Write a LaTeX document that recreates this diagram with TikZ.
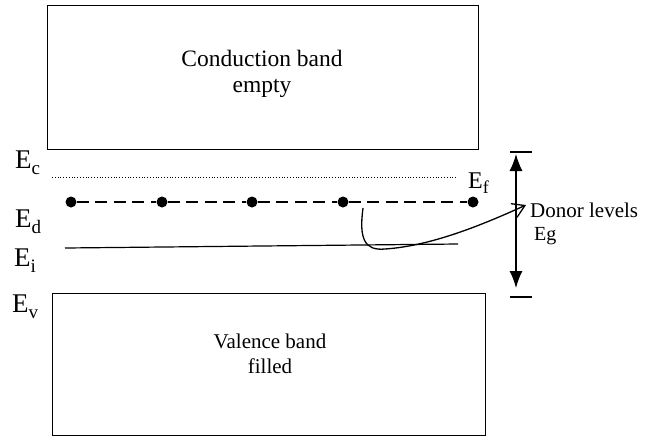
\documentclass[tikz,border=0pt]{standalone}
\usepackage{fontspec}
\setmainfont{Liberation Serif}
\usetikzlibrary{arrows.meta}
\newcommand{\Elab}[1]{{\fontsize{27}{27}\selectfont E\raisebox{-6pt}{\fontsize{19}{19}\selectfont #1}}}
\begin{document}
\begin{tikzpicture}[x=1pt,y=-1pt,
  band/.style={draw,line width=1.4pt,inner sep=0pt,anchor=north west},
  bandtext/.style={inner sep=0pt,align=center},
  elabel/.style={inner sep=0pt,anchor=base west},
  level/.style={line width=1.2pt},
  dotlevel/.style={line width=0.9pt,dash pattern=on 1pt off 1.8pt},
  dashlevel/.style={line width=1.2pt,dash pattern=on 12pt off 6.5pt},
  donor/.style={circle,fill,inner sep=0pt,minimum size=11pt},
  gaparrow/.style={line width=1.3pt,{Latex[length=17pt,width=13pt]}-{Latex[length=17pt,width=13pt]}},
  bar/.style={line width=1.3pt},
  pointer/.style={line width=1.3pt,-{Straight Barb[length=12pt,width=15pt,line width=1.3pt]}}]
\useasboundingbox (0,0) rectangle (655,440);
% bands
\node[band,minimum width=431pt,minimum height=144pt] (cb) at (47,5) {};
\node[band,minimum width=433pt,minimum height=142pt] (vb) at (52,293) {};
\node[bandtext,font=\fontsize{23.5}{26}\selectfont] (cbt) at (262,74) {Conduction band\\empty};
\node[bandtext,font=\fontsize{21}{25}\selectfont] (vbt) at (270,354) {Valence band\\filled};
% labels
\node[elabel] (ec) at (15,168) {\Elab{c}};
\node[elabel] (ed) at (15,227) {\Elab{d}};
\node[elabel] (ei) at (14,266) {\Elab{i}};
\node[elabel] (ev) at (12,312) {\Elab{v}};
\node[elabel,font=\fontsize{24}{24}\selectfont] (ef) at (468,188) {E\raisebox{-5pt}{\fontsize{18}{18}\selectfont f}};
% levels
\coordinate (c1) at (52,177);
\coordinate (c2) at (457,177);
\draw[dotlevel] (c1) -- (c2);
\node[donor] (d1) at (71,202) {};
\node[donor] (d2) at (162,202) {};
\node[donor] (d3) at (252,202) {};
\node[donor] (d4) at (343,202) {};
\node[donor] (d5) at (473,202) {};
\draw[dashlevel] (d1) -- (d2) -- (d3) -- (d4) -- (d5);
\coordinate (i1) at (65,248);
\coordinate (i2) at (458,244);
\draw[level] (i1) -- (i2);
% gap arrow
\coordinate (gt1) at (516,154);
\coordinate (gb1) at (516,288);
\coordinate (bt1) at (510,152);
\coordinate (bt2) at (532,152);
\coordinate (bb1) at (510,297);
\coordinate (bb2) at (532,297);
\draw[bar] (bt1) -- (bt2);
\draw[bar] (bb1) -- (bb2);
\draw[gaparrow] (gt1) -- (gb1);
% donor label and pointer
\node[inner sep=0pt,anchor=base west,font=\fontsize{21}{21}\selectfont] (dl) at (530,217) {Donor levels};
\node[inner sep=0pt,anchor=base west,font=\fontsize{20}{20}\selectfont] (eg) at (534,240) {Eg};
\coordinate (p0) at (363,208);
\coordinate (pm) at (385,249);
\coordinate (p1) at (526,205);
\draw[pointer] (p0) .. controls (359,238) and (364,251) .. (pm) .. controls (430,246) and (480,226) .. (p1);
\end{tikzpicture}
\end{document}
